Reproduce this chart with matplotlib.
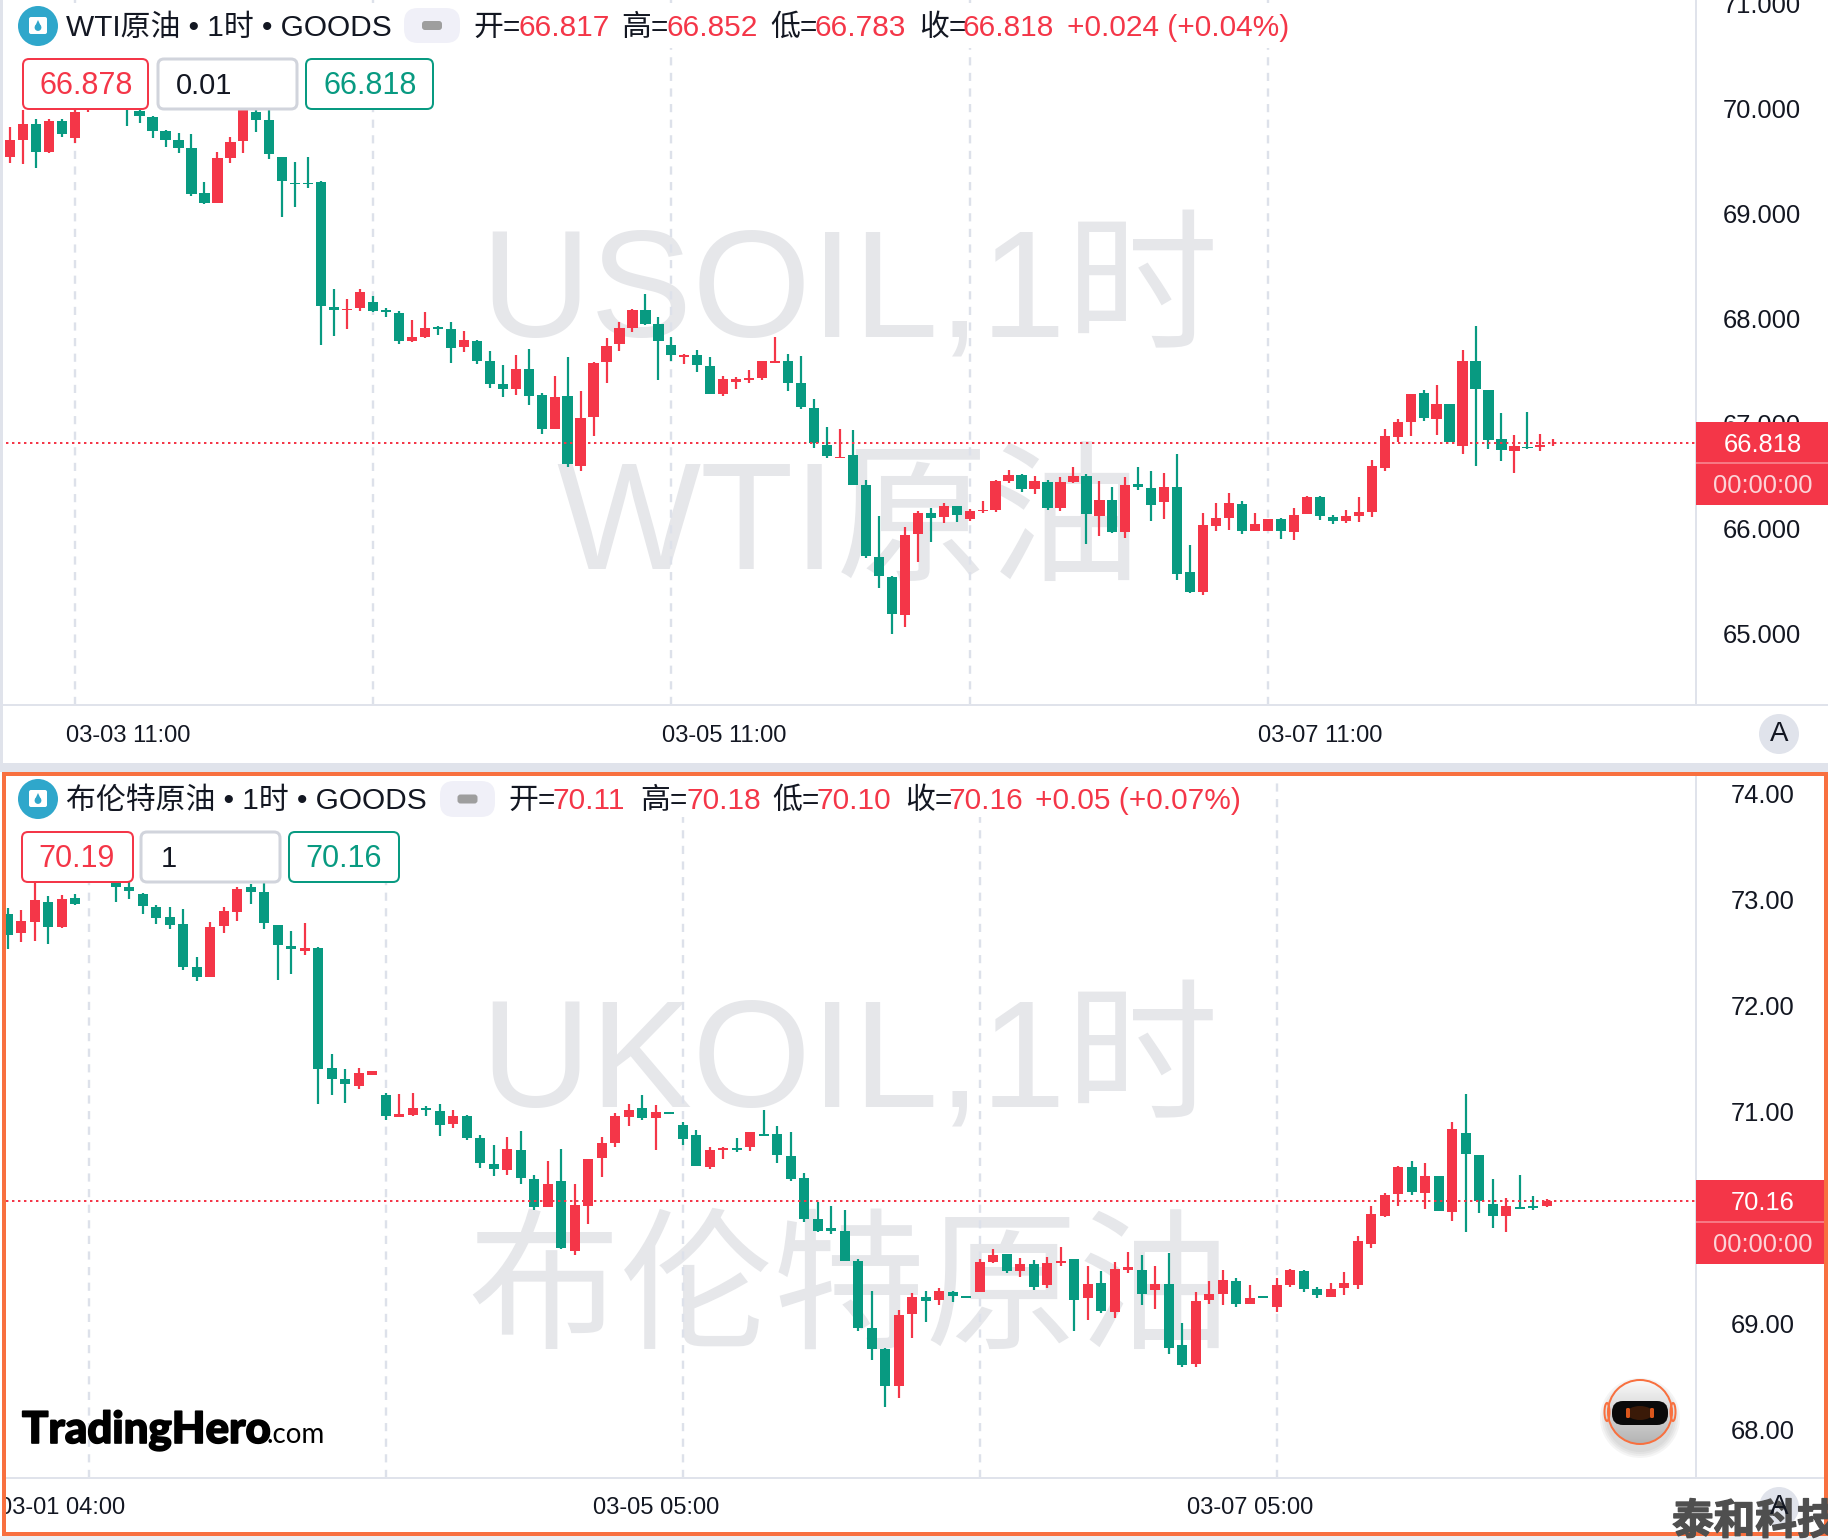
import numpy as np
import matplotlib
matplotlib.use("Agg")
import matplotlib.pyplot as plt
import matplotlib.patheffects as pe
from matplotlib.patches import Rectangle, FancyBboxPatch, Circle, Ellipse, Polygon

plt.rcParams['font.family'] = ['Liberation Sans', 'Noto Sans CJK SC', 'DejaVu Sans']

# WTI hourly candles (first one is cut off by the left edge)
wti_open = [69.67, 69.54, 69.70, 69.85, 69.59, 69.88, 69.72, 69.99, 70.15, 70.22,
            70.06, 69.98, 69.92, 69.79, 69.70, 69.62, 69.20, 69.10, 69.53, 69.69,
            69.97, 69.89, 69.54, 69.29, 69.29, 69.30, 68.11, 68.08, 68.10, 68.16,
            68.08, 68.05, 67.79, 67.82, 67.92, 67.90, 67.73, 67.79, 67.60, 67.38,
            67.33, 67.52, 67.27, 66.95, 67.26, 66.60, 67.06, 67.59, 67.76, 67.91,
            68.08, 67.95, 67.75, 67.63, 67.65, 67.55, 67.28, 67.40, 67.41, 67.43,
            67.58, 67.60, 67.39, 67.15, 66.80, 66.67, 66.70, 66.41, 65.73, 65.54,
            65.18, 65.95, 66.15, 66.11, 66.21, 66.09, 66.17, 66.18, 66.45, 66.51,
            66.38, 66.44, 66.20, 66.44, 66.50, 66.12, 66.27, 65.97, 66.42, 66.39,
            66.25, 66.40, 65.59, 65.40, 66.02, 66.10, 66.23, 65.98, 65.98, 66.09,
            65.97, 66.14, 66.30, 66.11, 66.07, 66.12, 66.16, 66.58, 66.87, 67.01,
            67.29, 67.04, 67.19, 66.79, 67.60, 67.32, 66.85, 66.74, 66.78, 66.78,
            66.817]
wti_high = [69.67, 69.82, 70.05, 69.90, 69.90, 69.90, 70.02, 70.21, 70.25, 70.30,
            70.12, 70.02, 69.93, 69.80, 69.77, 69.76, 69.30, 69.59, 69.73, 70.12,
            70.01, 70.05, 69.54, 69.49, 69.54, 69.31, 68.28, 68.19, 68.28, 68.21,
            68.10, 68.07, 67.99, 68.06, 67.93, 67.97, 67.88, 67.80, 67.69, 67.56,
            67.65, 67.71, 67.29, 67.45, 67.63, 67.31, 67.59, 67.81, 67.97, 68.09,
            68.23, 68.01, 67.82, 67.66, 67.70, 67.63, 67.45, 67.44, 67.51, 67.60,
            67.82, 67.66, 67.64, 67.23, 66.97, 66.95, 66.94, 66.46, 66.12, 65.55,
            66.01, 66.17, 66.20, 66.24, 66.21, 66.19, 66.26, 66.46, 66.56, 66.52,
            66.50, 66.46, 66.49, 66.59, 66.52, 66.45, 66.40, 66.49, 66.59, 66.55,
            66.53, 66.71, 65.84, 66.15, 66.24, 66.34, 66.26, 66.15, 66.09, 66.10,
            66.20, 66.31, 66.31, 66.13, 66.18, 66.30, 66.65, 66.95, 67.04, 67.28,
            67.32, 67.37, 67.19, 67.70, 67.93, 67.32, 67.10, 66.89, 67.11, 66.90,
            66.852]
wti_low = [69.55, 69.48, 69.47, 69.43, 69.58, 69.73, 69.67, 69.97, 70.05, 70.05,
           69.83, 69.86, 69.72, 69.63, 69.58, 69.17, 69.09, 69.10, 69.48, 69.58,
           69.78, 69.52, 68.97, 69.06, 69.24, 67.75, 67.83, 67.90, 68.07, 68.06,
           68.01, 67.76, 67.78, 67.81, 67.84, 67.58, 67.68, 67.57, 67.34, 67.25,
           67.27, 67.18, 66.90, 66.95, 66.59, 66.55, 66.88, 67.39, 67.69, 67.87,
           67.94, 67.41, 67.60, 67.57, 67.49, 67.28, 67.26, 67.33, 67.39, 67.41,
           67.58, 67.31, 67.14, 66.77, 66.67, 66.67, 66.41, 65.72, 65.43, 65.00,
           65.06, 65.68, 65.87, 66.05, 66.06, 66.07, 66.15, 66.16, 66.43, 66.35,
           66.33, 66.18, 66.17, 66.43, 65.85, 65.93, 65.96, 65.91, 66.37, 66.07,
           66.09, 65.51, 65.39, 65.37, 65.98, 65.99, 65.95, 65.98, 65.98, 65.90,
           65.89, 66.14, 66.08, 66.04, 66.05, 66.06, 66.11, 66.55, 66.82, 66.88,
           67.02, 66.89, 66.82, 66.71, 66.60, 66.76, 66.64, 66.53, 66.76, 66.74,
           66.783]
wti_close = [69.55, 69.70, 69.85, 69.59, 69.88, 69.76, 69.97, 70.10, 70.22, 70.10,
             70.00, 69.93, 69.79, 69.70, 69.62, 69.19, 69.10, 69.53, 69.68, 70.04,
             69.89, 69.57, 69.31, 69.28, 69.28, 68.12, 68.08, 68.09, 68.25, 68.07,
             68.06, 67.79, 67.82, 67.91, 67.90, 67.72, 67.80, 67.60, 67.38, 67.33,
             67.52, 67.26, 66.95, 67.25, 66.61, 67.05, 67.58, 67.74, 67.91, 68.08,
             67.95, 67.79, 67.65, 67.65, 67.56, 67.28, 67.42, 67.42, 67.43, 67.60,
             67.60, 67.39, 67.16, 66.81, 66.69, 66.68, 66.41, 65.74, 65.55, 65.19,
             65.94, 66.15, 66.10, 66.21, 66.13, 66.17, 66.18, 66.45, 66.51, 66.38,
             66.45, 66.20, 66.44, 66.50, 66.14, 66.27, 65.97, 66.41, 66.40, 66.22,
             66.40, 65.57, 65.40, 66.03, 66.10, 66.24, 65.98, 66.04, 66.09, 65.98,
             66.13, 66.30, 66.12, 66.07, 66.12, 66.16, 66.60, 66.88, 67.01, 67.28,
             67.05, 67.19, 66.82, 67.60, 67.33, 66.84, 66.75, 66.79, 66.77, 66.80,
             66.818]

# Brent hourly candles
brent_open = [72.86, 72.69, 72.79, 72.98, 72.74, 73.02, 73.20, 73.30, 73.22, 73.12,
              73.05, 72.93, 72.84, 72.77, 72.36, 72.27, 72.75, 72.88, 73.12, 73.07,
              72.76, 72.56, 72.52, 72.54, 71.41, 71.31, 71.24, 71.35, 71.16, 70.95,
              70.97, 71.03, 71.01, 70.88, 70.96, 70.75, 70.51, 70.45, 70.64, 70.36,
              70.10, 70.35, 69.69, 70.11, 70.56, 70.70, 70.95, 71.03, 70.94, 71.00,
              70.87, 70.78, 70.48, 70.64, 70.66, 70.67, 70.79, 70.79, 70.58, 70.37,
              69.99, 69.90, 69.87, 69.59, 68.96, 68.76, 68.41, 69.09, 69.25, 69.22,
              69.30, 69.26, 69.30, 69.58, 69.66, 69.50, 69.56, 69.36, 69.57, 69.61,
              69.24, 69.38, 69.11, 69.51, 69.51, 69.32, 69.37, 68.80, 68.62, 69.22,
              69.28, 69.40, 69.19, 69.26, 69.16, 69.36, 69.50, 69.33, 69.25, 69.34,
              69.36, 69.75, 70.02, 70.22, 70.48, 70.23, 70.39, 70.05, 70.80, 70.59,
              70.13, 70.02, 70.10, 70.11, 70.11]
brent_high = [72.92, 72.90, 73.19, 73.03, 73.04, 73.05, 73.32, 73.36, 73.25, 73.17,
              73.06, 72.95, 72.93, 72.91, 72.46, 72.79, 72.93, 73.12, 73.15, 73.19,
              72.76, 72.70, 72.78, 72.55, 71.54, 71.40, 71.41, 71.38, 71.18, 71.17,
              71.18, 71.05, 71.07, 71.02, 70.97, 70.78, 70.69, 70.76, 70.82, 70.40,
              70.53, 70.65, 70.32, 70.55, 70.76, 70.99, 71.07, 71.16, 71.06, 71.00,
              70.90, 70.83, 70.67, 70.67, 70.75, 70.81, 71.02, 70.86, 70.81, 70.42,
              70.15, 70.11, 70.07, 69.61, 69.31, 68.77, 69.13, 69.29, 69.31, 69.34,
              69.31, 69.26, 69.61, 69.70, 69.66, 69.62, 69.60, 69.63, 69.72, 69.61,
              69.54, 69.50, 69.58, 69.68, 69.65, 69.54, 69.67, 69.01, 69.30, 69.40,
              69.51, 69.43, 69.36, 69.26, 69.43, 69.52, 69.51, 69.35, 69.38, 69.49,
              69.83, 70.11, 70.23, 70.49, 70.53, 70.52, 70.39, 70.90, 71.17, 70.59,
              70.36, 70.19, 70.40, 70.20, 70.18]
brent_low = [72.53, 72.60, 72.61, 72.58, 72.73, 72.95, 73.18, 73.20, 72.98, 73.01,
             72.86, 72.77, 72.72, 72.34, 72.23, 72.27, 72.69, 72.80, 72.96, 72.72,
             72.24, 72.30, 72.48, 71.07, 71.16, 71.08, 71.21, 71.35, 70.92, 70.95,
             70.96, 70.96, 70.77, 70.85, 70.73, 70.47, 70.39, 70.40, 70.32, 70.07,
             70.10, 69.70, 69.65, 69.94, 70.38, 70.67, 70.86, 70.92, 70.64, 70.98,
             70.69, 70.49, 70.46, 70.55, 70.62, 70.63, 70.77, 70.52, 70.35, 69.96,
             69.86, 69.85, 69.59, 68.93, 68.66, 68.21, 68.30, 68.86, 69.02, 69.18,
             69.20, 69.24, 69.30, 69.57, 69.48, 69.44, 69.32, 69.34, 69.54, 68.93,
             69.03, 69.10, 69.05, 69.48, 69.18, 69.14, 68.71, 68.59, 68.59, 69.19,
             69.18, 69.16, 69.19, 69.24, 69.11, 69.35, 69.30, 69.24, 69.25, 69.27,
             69.33, 69.71, 70.01, 70.11, 70.21, 70.08, 70.06, 69.97, 69.86, 70.04,
             69.90, 69.86, 70.08, 70.07, 70.10]
brent_close = [72.67, 72.80, 73.00, 72.74, 73.01, 72.96, 73.28, 73.24, 73.12, 73.08,
               72.94, 72.83, 72.76, 72.36, 72.27, 72.74, 72.89, 73.10, 73.07, 72.78,
               72.57, 72.53, 72.54, 71.40, 71.31, 71.26, 71.36, 71.38, 70.96, 70.98,
               71.03, 71.02, 70.87, 70.96, 70.75, 70.52, 70.46, 70.65, 70.37, 70.10,
               70.32, 69.71, 70.12, 70.55, 70.70, 70.96, 71.02, 70.94, 71.00, 70.98,
               70.74, 70.49, 70.64, 70.66, 70.64, 70.81, 70.77, 70.59, 70.36, 69.99,
               69.87, 69.87, 69.59, 68.96, 68.76, 68.41, 69.08, 69.25, 69.21, 69.31,
               69.26, 69.24, 69.58, 69.65, 69.50, 69.56, 69.35, 69.57, 69.59, 69.22,
               69.37, 69.12, 69.52, 69.53, 69.28, 69.37, 68.77, 68.61, 69.21, 69.28,
               69.41, 69.19, 69.24, 69.24, 69.36, 69.51, 69.33, 69.27, 69.33, 69.38,
               69.78, 70.03, 70.21, 70.48, 70.24, 70.39, 70.06, 70.84, 70.60, 70.16,
               70.02, 70.11, 70.08, 70.09, 70.16]

wti_ticks = [65, 66, 67, 68, 69, 70, 71]
brent_ticks = [68, 69, 70, 71, 72, 73, 74]
wti_grid = [6, 29, 52, 75, 98]
brent_grid = [6, 28, 50, 72, 94]
wti_last = 66.818
brent_last = 70.16

RED = '#F43648'
GREEN = '#089A81'
LINE = '#E0E3EB'
ORANGE = '#F8703F'
W, H = 1828, 1540
PX = 0.72  # one pixel in points at dpi 100

fig = plt.figure(figsize=(W / 100, H / 100), dpi=100, facecolor='white')


def chart_axes(left, top, right, bottom):
    return fig.add_axes([left / W, 1 - bottom / H, (right - left) / W, (bottom - top) / H], zorder=1)


def draw_candles(ax, o, h, l, c, width):
    o, h, l, c = map(np.array, (o, h, l, c))
    x = np.arange(len(o))
    colors = [RED if cc >= oo else GREEN for oo, cc in zip(o, c)]
    ax.vlines(x, l, h, colors=colors, linewidth=2.2 * PX, zorder=3)
    ax.bar(x, np.abs(c - o), bottom=np.minimum(o, c), width=width, color=colors, linewidth=0, zorder=4)


def setup_axes(ax, ticks, fmt, pad, grid, last):
    ax.patch.set_visible(False)
    for s in ax.spines.values():
        s.set_visible(False)
    ax.set_xticks([])
    ax.yaxis.tick_right()
    ax.set_yticks(ticks)
    ax.set_yticklabels([fmt % t for t in ticks], fontsize=18.4, color='#131722')
    ax.tick_params(axis='y', length=0, pad=pad)
    for g in grid:
        ax.axvline(g, color='#DDE1EA', linewidth=2.4 * PX, linestyle=(0, (3.4, 3.1)), zorder=1)
    ax.axhline(last, color=RED, linewidth=2 * PX, linestyle=(0, (1.2, 1.8)), zorder=5)


# background layer: watermarks
bg = fig.add_axes([0, 0, 1, 1], zorder=0)
bg.set_xlim(0, W)
bg.set_ylim(H, 0)
bg.axis('off')
wm = dict(color='#E6E7EA', fontsize=110, ha='center', va='center')
bg.text(849, 295, 'USOIL,1时', **wm)
bg.text(849, 530, 'WTI原油', **wm)
bg.text(849, 1065, 'UKOIL,1时', **wm)
bg.text(849, 1298, '布伦特原油', **wm)

# top chart
ax1 = chart_axes(0, 0, 1696, 705)
setup_axes(ax1, wti_ticks, '%.3f', 19.4, wti_grid, wti_last)
draw_candles(ax1, wti_open, wti_high, wti_low, wti_close, 0.79)
ax1.set_xlim((0 - 9.9) / 12.97 + 1, (1696 - 9.9) / 12.97 + 1)
ax1.set_ylim(66 - (705 - 528.5) / 105, 66 + 528.5 / 105)

# bottom chart
ax2 = chart_axes(6, 775, 1696, 1478)
setup_axes(ax2, brent_ticks, '%.2f', 25, brent_grid, brent_last)
draw_candles(ax2, brent_open, brent_high, brent_low, brent_close, 0.74)
ax2.set_xlim((6 - 7.9) / 13.5, (1696 - 7.9) / 13.5)
ax2.set_ylim(brent_last - (1478 - 1200.7) / 106, brent_last + (1200.7 - 775) / 106)

# foreground layer: everything the trading page draws over the chart
fg = fig.add_axes([0, 0, 1, 1], zorder=2)
fg.patch.set_visible(False)
fg.set_xlim(0, W)
fg.set_ylim(H, 0)
fg.axis('off')


def rect(x0, y0, x1, y1, color, z=1):
    fg.add_patch(Rectangle((x0, y0), x1 - x0, y1 - y0, facecolor=color, edgecolor='none', zorder=z))


def round_box(x0, y0, x1, y1, face, edge='none', lw=2, r=6, z=3):
    fg.add_patch(FancyBboxPatch((x0, y0), x1 - x0, y1 - y0, boxstyle='round,pad=0,rounding_size=%g' % r,
                                facecolor=face, edgecolor=edge, linewidth=lw * PX, zorder=z))


# white legend strips that hide the chart behind them
rect(3, 5, 1295, 48, 'white')
rect(3, 48, 440, 110, 'white')
rect(6, 778, 1245, 817, 'white')
rect(6, 817, 405, 882, 'white')

# panel lines
rect(0, 0, 2.5, 763, LINE)
rect(1695, 0, 1697, 705, LINE)
rect(1695, 775, 1697, 1478, LINE)
rect(0, 704, W, 706, LINE)
rect(6, 1477, 1824, 1479, LINE)
rect(0, 706, W, 763, 'white', z=0.5)
rect(0, 1479, W, 1532, 'white', z=0.5)


def legend_icon(cx, cy):
    fg.add_patch(Circle((cx, cy), 20, facecolor='#2FA7CB', edgecolor='none', zorder=3))
    round_box(cx - 9, cy - 9, cx + 9, cy + 8, 'white', r=2, z=4)
    fg.add_patch(Circle((cx, cy + 1.5), 3.4, facecolor='#2FA7CB', edgecolor='none', zorder=5))
    fg.add_patch(Polygon([(cx - 2.8, cy), (cx + 2.8, cy), (cx, cy - 6)], facecolor='#2FA7CB', edgecolor='none', zorder=5))


def pill(x0, x1, y0, y1):
    round_box(x0, y0, x1, y1, '#F0F0F8', r=14)
    cy = (y0 + y1) / 2
    cx = (x0 + x1) / 2
    round_box(cx - 10, cy - 4.5, cx + 10, cy + 4.5, '#9E9E9E', r=3, z=4)


def head(x, y, s, color='#131722', size=21.5):
    fg.text(x, y, s, color=color, fontsize=size, ha='left', va='center', zorder=6)


# top legend
legend_icon(38, 26)
head(66, 28, 'WTI原油 • 1时 • GOODS')
pill(404, 460, 8, 43)
for x, s in [(473, '开='), (621, '高='), (770, '低='), (919, '收=')]:
    head(x, 28, s)
for x, s in [(518, '66.817'), (666, '66.852'), (815, '66.783'), (963, '66.818'), (1067, '+0.024 (+0.04%)')]:
    head(x, 28, s, RED)

# bottom legend
legend_icon(38, 799)
head(66, 801, '布伦特原油 • 1时 • GOODS')
pill(440, 495, 781, 817)
for x, s in [(508, '开='), (640, '高='), (772, '低='), (905, '收=')]:
    head(x, 801, s)
for x, s in [(553, '70.11'), (686, '70.18'), (817, '70.10'), (949, '70.16'), (1035, '+0.05 (+0.07%)')]:
    head(x, 801, s, RED)

# order boxes
round_box(23, 59, 148, 109, 'white', RED)
round_box(158, 59, 297, 109, 'white', '#D1D4DC', lw=3)
round_box(306, 59, 433, 109, 'white', GREEN)
fg.text(86, 86, '66.878', color=RED, fontsize=22, ha='center', va='center', zorder=6)
fg.text(176, 86, '0.01', color='#131722', fontsize=21, ha='left', va='center', zorder=6)
fg.text(370, 86, '66.818', color=GREEN, fontsize=22, ha='center', va='center', zorder=6)

round_box(22, 832, 133, 882, 'white', RED)
round_box(141, 832, 280, 882, 'white', '#D1D4DC', lw=3)
round_box(289, 832, 399, 882, 'white', GREEN)
fg.text(77, 859, '70.19', color=RED, fontsize=22, ha='center', va='center', zorder=6)
fg.text(161, 859, '1', color='#131722', fontsize=21, ha='left', va='center', zorder=6)
fg.text(344, 859, '70.16', color=GREEN, fontsize=22, ha='center', va='center', zorder=6)


def price_box(y0, y1, ymid, x1, label):
    rect(1696, y0, x1, y1, RED, z=2)
    rect(1696, ymid - 0.6, x1, ymid + 0.6, '#F77884', z=3)
    fg.text(1763, (y0 + ymid) / 2 + 2, label, color='white', fontsize=18.4, ha='center', va='center', zorder=6)
    fg.text(1763, (ymid + y1) / 2 + 2, '00:00:00', color='#FCD3D7', fontsize=18.4, ha='center', va='center', zorder=6)


price_box(422, 505, 463, W, '66.818')
price_box(1180, 1264, 1222, 1824, '70.16')

# time axis labels
for x, y, s in [(128, 736, '03-03 11:00'), (724, 736, '03-05 11:00'), (1320, 736, '03-07 11:00'),
                (62, 1508, '03-01 04:00'), (656, 1508, '03-05 05:00'), (1250, 1508, '03-07 05:00')]:
    fg.text(x, y, s, color='#131722', fontsize=17.1, ha='center', va='center', zorder=4)

# auto scale buttons
for y in (734, 1507):
    fg.add_patch(Circle((1779, y), 20, facecolor=LINE, edgecolor='none', zorder=3))
    fg.text(1779, y, 'A', color='#131722', fontsize=20, ha='center', va='center', zorder=9)

# logo
fg.text(22, 1443, 'TradingHero', color='black', fontsize=31.5, family='Lato', weight='black',
        ha='left', va='baseline', zorder=6, path_effects=[pe.withStroke(linewidth=1.2, foreground='black')])
fg.text(267, 1443, '.com', color='black', fontsize=20, family='Lato', ha='left', va='baseline', zorder=6)

# robot button
for r in [40, 38, 36, 34]:
    fg.add_patch(Circle((1640, 1418), r, facecolor='#808080', alpha=0.08, edgecolor='none', zorder=3))
grad = np.linspace(0.98, 0.70, 64).reshape(-1, 1)
im = fg.imshow(grad, cmap='gray', vmin=0, vmax=1, extent=(1606, 1674, 1445, 1379), aspect='auto', zorder=4)
head_shape = Circle((1640, 1412), 32, transform=fg.transData)
im.set_clip_path(head_shape)
fg.add_patch(Circle((1640, 1412), 32, facecolor='none', edgecolor=ORANGE, linewidth=2 * PX, zorder=5))
fg.add_patch(Ellipse((1607, 1412), 5, 18, facecolor='none', edgecolor=ORANGE, linewidth=2 * PX, zorder=4))
fg.add_patch(Ellipse((1673, 1412), 5, 18, facecolor='none', edgecolor=ORANGE, linewidth=2 * PX, zorder=4))
round_box(1612, 1401, 1668, 1425, '#0A0A0A', r=11, z=6)
fg.add_patch(Ellipse((1640, 1413), 26, 14, facecolor='#3A1A08', edgecolor='none', zorder=6.5))
round_box(1626, 1408, 1630, 1418, '#D8561C', r=1.5, z=7)
round_box(1650, 1408, 1654, 1418, '#D8561C', r=1.5, z=7)
fg.set_xlim(0, W)
fg.set_ylim(H, 0)

# orange frame round the lower panel
rect(0, 763, W, 772, LINE, z=2)
rect(0, 772, 2, H, 'white', z=5)
rect(1826, 772, W, H, '#F5F5F5', z=5)
rect(0, 1536, W, H, '#ECEEF2', z=5)
fg.add_patch(Rectangle((4, 774), 1822, 760, facecolor='none', edgecolor=ORANGE, linewidth=4 * PX, zorder=5.5))

# site stamp in the corner
fg.text(1672, 1522, '泰和科技', color='#4F4F4F', fontsize=30, family='Noto Sans CJK SC', weight='bold',
        ha='left', va='center', zorder=8, clip_on=True,
        path_effects=[pe.withStroke(linewidth=1, foreground='#4F4F4F')])

fig.savefig('out.png', dpi=100)
